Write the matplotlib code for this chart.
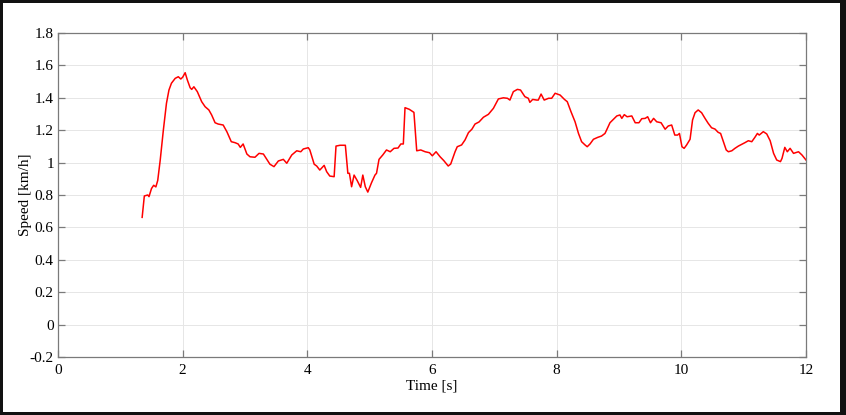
import matplotlib.pyplot as plt
from matplotlib.patches import Rectangle

# speed trace
time = [1.35, 1.385, 1.44, 1.46, 1.50, 1.535, 1.57, 1.60, 1.64, 1.69, 1.74, 1.78, 1.82, 1.88,
        1.93, 1.97, 2.0, 2.04, 2.075, 2.12, 2.145, 2.18, 2.235, 2.305, 2.36, 2.42, 2.465, 2.52,
        2.57, 2.65, 2.71, 2.78, 2.84, 2.89, 2.925, 2.97, 3.03, 3.08, 3.16, 3.225, 3.295, 3.34,
        3.40, 3.465, 3.535, 3.615, 3.67, 3.75, 3.83, 3.895, 3.935, 4.015, 4.04, 4.11, 4.15,
        4.20, 4.27, 4.31, 4.36, 4.43, 4.46, 4.525, 4.61, 4.65, 4.675, 4.71, 4.75, 4.80, 4.855,
        4.89, 4.93, 4.97, 5.03, 5.085, 5.11, 5.15, 5.21, 5.27, 5.33, 5.39, 5.455, 5.50, 5.54,
        5.567, 5.635, 5.71, 5.755, 5.82, 5.89, 5.96, 6.005, 6.065, 6.13, 6.19, 6.26, 6.30,
        6.37, 6.405, 6.475, 6.53, 6.585, 6.64, 6.69, 6.755, 6.825, 6.905, 6.985, 7.065, 7.145,
        7.21, 7.25, 7.305, 7.37, 7.42, 7.49, 7.545, 7.57, 7.615, 7.68, 7.705, 7.75, 7.80, 7.87,
        7.92, 7.975, 8.055, 8.125, 8.17, 8.23, 8.295, 8.35, 8.40, 8.455, 8.49, 8.535, 8.59,
        8.66, 8.72, 8.775, 8.80, 8.855, 8.91, 8.965, 9.015, 9.045, 9.085, 9.13, 9.205, 9.26,
        9.32, 9.365, 9.42, 9.46, 9.505, 9.555, 9.605, 9.675, 9.74, 9.79, 9.845, 9.895, 9.94,
        9.97, 10.01, 10.045, 10.085, 10.14, 10.18, 10.22, 10.27, 10.325, 10.38, 10.43, 10.485,
        10.54, 10.59, 10.63, 10.675, 10.72, 10.755, 10.81, 10.86, 10.915, 10.97, 11.02, 11.075,
        11.13, 11.18, 11.22, 11.25, 11.315, 11.37, 11.425, 11.48, 11.53, 11.59, 11.615, 11.66,
        11.70, 11.745, 11.80, 11.88, 11.935, 12.0]
speed = [0.662, 0.794, 0.80, 0.79, 0.84, 0.86, 0.85, 0.89, 1.016, 1.20, 1.366, 1.448, 1.49, 1.52,
         1.53, 1.516, 1.527, 1.555, 1.51, 1.462, 1.452, 1.468, 1.438, 1.376, 1.345, 1.325, 1.294,
         1.246, 1.238, 1.232, 1.19, 1.129, 1.123, 1.115, 1.094, 1.115, 1.053, 1.036, 1.033, 1.057,
         1.053, 1.026, 0.99, 0.975, 1.01, 1.02, 0.996, 1.047, 1.073, 1.067, 1.084, 1.092, 1.078,
         0.99, 0.979, 0.954, 0.983, 0.944, 0.917, 0.913, 1.102, 1.107, 1.107, 0.934, 0.934,
         0.851, 0.923, 0.889, 0.847, 0.923, 0.851, 0.818, 0.876, 0.923, 0.934, 1.02, 1.047,
         1.078, 1.067, 1.088, 1.09, 1.115, 1.115, 1.339, 1.329, 1.31, 1.073, 1.078, 1.067, 1.061,
         1.042, 1.067, 1.036, 1.012, 0.979, 0.991, 1.067, 1.098, 1.109, 1.14, 1.185, 1.206,
         1.238, 1.251, 1.28, 1.298, 1.335, 1.393, 1.40, 1.397, 1.386, 1.438, 1.452, 1.448, 1.407,
         1.397, 1.372, 1.39, 1.386, 1.386, 1.423, 1.386, 1.397, 1.397, 1.428, 1.417, 1.39, 1.376,
         1.314, 1.252, 1.18, 1.129, 1.109, 1.098, 1.115, 1.144, 1.156, 1.164, 1.18, 1.20, 1.246,
         1.267, 1.288, 1.294, 1.273, 1.296, 1.283, 1.288, 1.246, 1.246, 1.271, 1.273, 1.283,
         1.246, 1.273, 1.252, 1.246, 1.206, 1.226, 1.232, 1.17, 1.17, 1.18, 1.098, 1.088, 1.109,
         1.144, 1.263, 1.308, 1.325, 1.308, 1.273, 1.243, 1.215, 1.207, 1.187, 1.18, 1.129,
         1.078, 1.067, 1.073, 1.088, 1.102, 1.113, 1.123, 1.135, 1.129, 1.156, 1.18, 1.17,
         1.191, 1.177, 1.135, 1.057, 1.016, 1.006, 1.026, 1.094, 1.067, 1.088, 1.057, 1.067,
         1.047, 1.016]

xticks = [0, 2, 4, 6, 8, 10, 12]
yticks = [-0.2, 0, 0.2, 0.4, 0.6, 0.8, 1.0, 1.2, 1.4, 1.6, 1.8]
ylabels = ['-0.2', '0', '0.2', '0.4', '0.6', '0.8', '1', '1.2', '1.4', '1.6', '1.8']

plt.rcParams['font.family'] = ['Liberation Serif', 'DejaVu Serif']

fig = plt.figure(figsize=(8.46, 4.15), dpi=100)
fig.patch.set_facecolor('#111111')
# white sheet inside the dark frame
fig.patches.append(Rectangle((3/846, 3/415), 837/846, 409/415, transform=fig.transFigure,
                             facecolor='white', edgecolor='none', zorder=-5))

ax = fig.add_axes([58/846, 58/415, 748/846, 324/415])
ax.set_zorder(2)
ax.plot(time, speed, color='#ff0000', lw=1.1)

ax.set_xlim(0, 12)
ax.set_ylim(-0.2, 1.8)
ax.set_xticks(xticks)
ax.set_xticklabels([str(t) for t in xticks])
ax.set_yticks(yticks)
ax.set_yticklabels(ylabels)
ax.grid(True, color='#e6e6e6', lw=0.7)
ax.set_axisbelow(True)

for s in ax.spines.values():
    s.set_color('#7a7a7a')
    s.set_linewidth(0.9)
ax.tick_params(direction='in', top=True, right=True, length=5, width=0.9,
               color='#7a7a7a', labelsize=11)
ax.tick_params(axis='y', pad=3)
ax.tick_params(axis='x', pad=5)

ax.set_xlabel('Time [s]', fontsize=11, labelpad=2)
ax.set_ylabel('Speed [km/h]', fontsize=11, labelpad=-2)

fig.savefig('out.png', dpi=100, facecolor=fig.get_facecolor())
